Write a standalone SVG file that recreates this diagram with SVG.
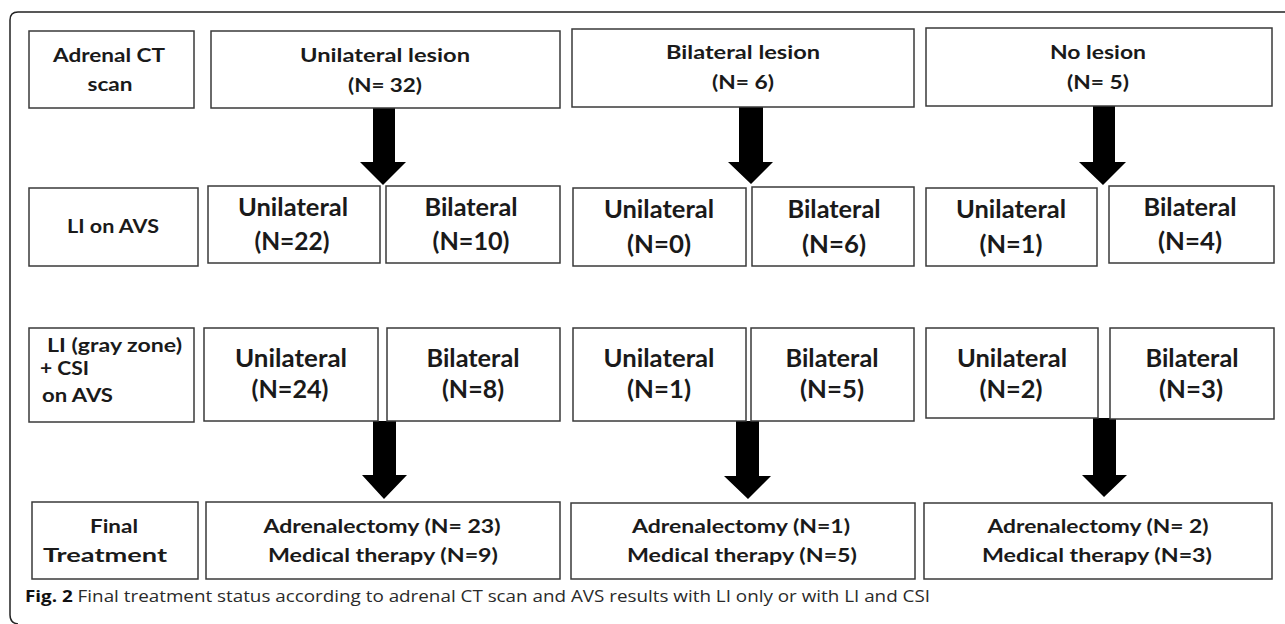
<svg xmlns="http://www.w3.org/2000/svg" width="1285" height="624" viewBox="0 0 1285 624">
<style>
.box{fill:#fff;stroke:#3a3a3a;stroke-width:1.5}
.t{font-family:Lato,"Open Sans","Liberation Sans",sans-serif;font-weight:700;fill:#1a1a1a;text-anchor:middle}
.s{font-size:19px}
.b{font-size:24px}
.l{text-anchor:start}
.arr{fill:#000}
.cap{font-family:"Open Sans","Liberation Sans",sans-serif;font-size:15.5px;fill:#2a2a2a}
</style>
<rect width="1285" height="624" fill="#fff"/>
<path d="M1285,12 H18 Q10,12 10,20 V615 Q10,623 18,624" fill="none" stroke="#222" stroke-width="1.5"/>

<g id="connectors">
<polygon class="arr" points="373,108 395,108 395,162 406,162 383,185 360,162 373,162"/>
<polygon class="arr" points="739,107 763,107 763,162 773,162 751,184 728,162 739,162"/>
<polygon class="arr" points="1093,106 1115,106 1115,162 1126,162 1103,185 1079,162 1093,162"/>
<polygon class="arr" points="373,421 396,421 396,475 407,475 384,499 362,475 373,475"/>
<polygon class="arr" points="736,421 759,421 759,476 771,476 748,499 724,476 736,476"/>
<polygon class="arr" points="1093,418 1116,418 1116,475 1127,475 1104,497 1082,475 1093,475"/>
</g>

<g id="ct-label"><rect class="box" x="29" y="31" width="165" height="77"/>
<text class="t s" x="109" y="62" textLength="112" lengthAdjust="spacingAndGlyphs">Adrenal CT</text>
<text class="t s" x="110" y="91" textLength="45" lengthAdjust="spacingAndGlyphs">scan</text></g>
<g id="ct-unilateral"><rect class="box" x="211" y="31" width="349" height="77"/>
<text class="t s" x="385" y="62" textLength="170" lengthAdjust="spacingAndGlyphs">Unilateral lesion</text>
<text class="t s" x="385" y="92" textLength="74" lengthAdjust="spacingAndGlyphs">(N= 32)</text></g>
<g id="ct-bilateral"><rect class="box" x="572" y="29" width="342" height="78"/>
<text class="t s" x="743" y="59" textLength="154" lengthAdjust="spacingAndGlyphs">Bilateral lesion</text>
<text class="t s" x="743" y="89" textLength="62" lengthAdjust="spacingAndGlyphs">(N= 6)</text></g>
<g id="ct-none"><rect class="box" x="926" y="28" width="346" height="78"/>
<text class="t s" x="1098" y="59" textLength="96" lengthAdjust="spacingAndGlyphs">No lesion</text>
<text class="t s" x="1098" y="89" textLength="62" lengthAdjust="spacingAndGlyphs">(N= 5)</text></g>

<g id="li-label"><rect class="box" x="29" y="188" width="169" height="78"/>
<text class="t s" x="113" y="233" textLength="92" lengthAdjust="spacingAndGlyphs">LI on AVS</text></g>
<g id="li-u1"><rect class="box" x="208" y="186" width="172" height="77"/>
<text class="t b" x="293" y="216" textLength="110" lengthAdjust="spacingAndGlyphs">Unilateral</text>
<text class="t b" x="292" y="250" textLength="75" lengthAdjust="spacingAndGlyphs">(N=22)</text></g>
<g id="li-b1"><rect class="box" x="386" y="186" width="174" height="77"/>
<text class="t b" x="471" y="216" textLength="93" lengthAdjust="spacingAndGlyphs">Bilateral</text>
<text class="t b" x="471" y="250" textLength="77" lengthAdjust="spacingAndGlyphs">(N=10)</text></g>
<g id="li-u2"><rect class="box" x="573" y="188" width="173" height="78"/>
<text class="t b" x="659" y="218" textLength="110" lengthAdjust="spacingAndGlyphs">Unilateral</text>
<text class="t b" x="659" y="253" textLength="64" lengthAdjust="spacingAndGlyphs">(N=0)</text></g>
<g id="li-b2"><rect class="box" x="752" y="187" width="162" height="79"/>
<text class="t b" x="834" y="218" textLength="93" lengthAdjust="spacingAndGlyphs">Bilateral</text>
<text class="t b" x="834" y="253" textLength="64" lengthAdjust="spacingAndGlyphs">(N=6)</text></g>
<g id="li-u3"><rect class="box" x="926" y="188" width="171" height="78"/>
<text class="t b" x="1011" y="218" textLength="110" lengthAdjust="spacingAndGlyphs">Unilateral</text>
<text class="t b" x="1011" y="253" textLength="63" lengthAdjust="spacingAndGlyphs">(N=1)</text></g>
<g id="li-b3"><rect class="box" x="1109" y="186" width="165" height="77"/>
<text class="t b" x="1190" y="216" textLength="93" lengthAdjust="spacingAndGlyphs">Bilateral</text>
<text class="t b" x="1190" y="250" textLength="64" lengthAdjust="spacingAndGlyphs">(N=4)</text></g>

<g id="csi-label"><rect class="box" x="29" y="328" width="165" height="94"/>
<text class="t s l" x="47" y="352" textLength="135" lengthAdjust="spacingAndGlyphs">LI (gray zone)</text>
<text class="t s l" x="40" y="375" textLength="49" lengthAdjust="spacingAndGlyphs">+ CSI</text>
<text class="t s l" x="42" y="402" textLength="71" lengthAdjust="spacingAndGlyphs">on AVS</text></g>
<g id="csi-u1"><rect class="box" x="204" y="328" width="174" height="93"/>
<text class="t b" x="291" y="367" textLength="112" lengthAdjust="spacingAndGlyphs">Unilateral</text>
<text class="t b" x="290" y="398" textLength="77" lengthAdjust="spacingAndGlyphs">(N=24)</text></g>
<g id="csi-b1"><rect class="box" x="387" y="328" width="173" height="93"/>
<text class="t b" x="473" y="367" textLength="93" lengthAdjust="spacingAndGlyphs">Bilateral</text>
<text class="t b" x="473" y="398" textLength="62" lengthAdjust="spacingAndGlyphs">(N=8)</text></g>
<g id="csi-u2"><rect class="box" x="573" y="328" width="173" height="93"/>
<text class="t b" x="659" y="367" textLength="111" lengthAdjust="spacingAndGlyphs">Unilateral</text>
<text class="t b" x="659" y="398" textLength="64" lengthAdjust="spacingAndGlyphs">(N=1)</text></g>
<g id="csi-b2"><rect class="box" x="751" y="328" width="163" height="93"/>
<text class="t b" x="832" y="367" textLength="93" lengthAdjust="spacingAndGlyphs">Bilateral</text>
<text class="t b" x="832" y="398" textLength="64" lengthAdjust="spacingAndGlyphs">(N=5)</text></g>
<g id="csi-u3"><rect class="box" x="926" y="328" width="172" height="90"/>
<text class="t b" x="1012" y="367" textLength="110" lengthAdjust="spacingAndGlyphs">Unilateral</text>
<text class="t b" x="1011" y="398" textLength="63" lengthAdjust="spacingAndGlyphs">(N=2)</text></g>
<g id="csi-b3"><rect class="box" x="1110" y="328" width="164" height="91"/>
<text class="t b" x="1192" y="367" textLength="93" lengthAdjust="spacingAndGlyphs">Bilateral</text>
<text class="t b" x="1191" y="398" textLength="64" lengthAdjust="spacingAndGlyphs">(N=3)</text></g>

<g id="final-label"><rect class="box" x="32" y="502" width="166" height="77"/>
<text class="t s" x="114" y="533" textLength="48" lengthAdjust="spacingAndGlyphs">Final</text>
<text class="t s" x="105" y="562" textLength="124" lengthAdjust="spacingAndGlyphs">Treatment</text></g>
<g id="final-1"><rect class="box" x="206" y="502" width="354" height="77"/>
<text class="t s" x="382" y="533" textLength="237" lengthAdjust="spacingAndGlyphs">Adrenalectomy (N= 23)</text>
<text class="t s" x="383" y="562" textLength="230" lengthAdjust="spacingAndGlyphs">Medical therapy (N=9)</text></g>
<g id="final-2"><rect class="box" x="571" y="503" width="344" height="76"/>
<text class="t s" x="741" y="533" textLength="218" lengthAdjust="spacingAndGlyphs">Adrenalectomy (N=1)</text>
<text class="t s" x="742" y="562" textLength="230" lengthAdjust="spacingAndGlyphs">Medical therapy (N=5)</text></g>
<g id="final-3"><rect class="box" x="924" y="503" width="348" height="76"/>
<text class="t s" x="1098" y="533" textLength="221" lengthAdjust="spacingAndGlyphs">Adrenalectomy (N= 2)</text>
<text class="t s" x="1097" y="562" textLength="230" lengthAdjust="spacingAndGlyphs">Medical therapy (N=3)</text></g>

<text class="cap" x="25" y="602" textLength="905" lengthAdjust="spacingAndGlyphs"><tspan font-weight="700" fill="#111">Fig. 2</tspan> Final treatment status according to adrenal CT scan and AVS results with LI only or with LI and CSI</text>
</svg>
